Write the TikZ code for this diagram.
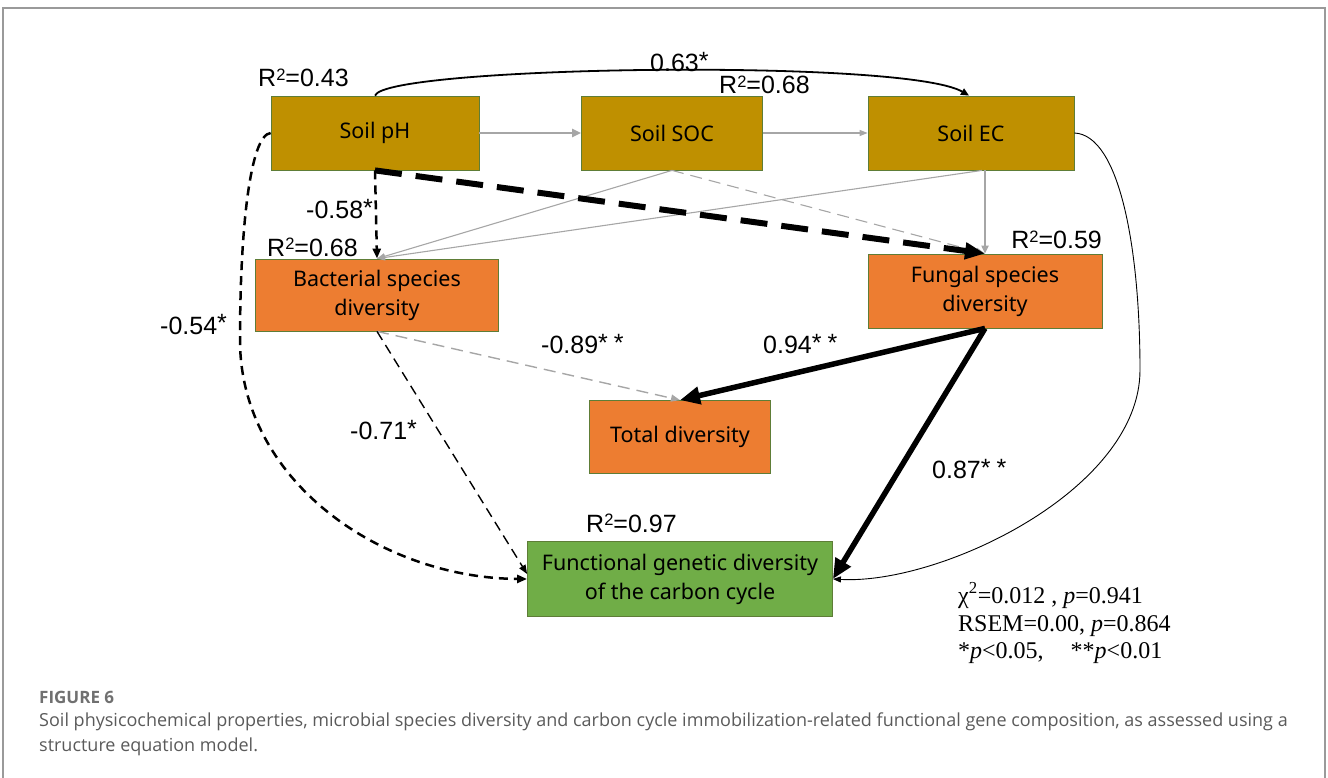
\documentclass[tikz,border=0pt]{standalone}
\usepackage{fontspec}
\setmainfont{Noto Sans}
\newfontfamily\labfont{Liberation Sans}
\newfontfamily\statfont{Liberation Serif}
\newfontfamily\capfont{Open Sans}
\usetikzlibrary{arrows.meta}
\definecolor{gold}{HTML}{BF9000}
\definecolor{orng}{HTML}{ED7D31}
\definecolor{grn}{HTML}{70AD47}
\definecolor{bord}{HTML}{5E7D37}
\definecolor{garr}{HTML}{A6A6A6}
\definecolor{capgray}{HTML}{5A5A5A}
\definecolor{figgray}{HTML}{707070}
\definecolor{framegray}{HTML}{9A9A9A}
\newcommand\sqr{\raisebox{6.5pt}{\fontsize{16.5}{16.5}\selectfont 2}}
\newcommand\onest{\raisebox{2pt}{*}}
\newcommand\twost{\raisebox{2pt}{*\hspace{6pt}*}}
\begin{document}
\begin{tikzpicture}[x=1pt,y=-1pt,
  box/.style={draw=bord,line width=0.8pt,inner sep=0pt,align=center,
    font=\fontsize{21.5}{29}\selectfont},
  goldbox/.style={box,fill=gold},
  orbox/.style={box,fill=orng},
  grbox/.style={box,fill=grn},
  lab/.style={font=\labfont\fontsize{25}{30}\selectfont,inner sep=0pt},
  stat/.style={font=\statfont\fontsize{24}{27}\selectfont,inner sep=0pt,anchor=base west},
  graythin/.style={draw=garr,line width=1.1pt,-{Triangle[length=8pt,width=6pt]}},
  graydash/.style={draw=garr,line width=1.4pt,dash pattern=on 12pt off 7pt,-{Triangle[length=9pt,width=7pt]}},
  blackdash/.style={draw=black,line width=2.5pt,dash pattern=on 9pt off 6pt,-{Triangle[length=10pt,width=8pt]}},
  thindash/.style={draw=black,line width=1.4pt,dash pattern=on 10pt off 6pt,-{Triangle[length=9pt,width=7pt]}},
  heavydash/.style={draw=black,line width=6pt,dash pattern=on 27pt off 14pt,-{Triangle[length=20pt,width=16pt]}},
  heavy/.style={draw=black,line width=5.5pt,-{Triangle[length=20pt,width=17pt]}},
]
\useasboundingbox (0,0) rectangle (1328,778);
\draw[framegray,line width=1.5pt] (3,780) -- (3,8) -- (1325,8) -- (1325,780);

% boxes
\node[goldbox,minimum width=208,minimum height=74] (pH) at (375,133) {Soil pH};
\node[goldbox,minimum width=181,minimum height=74] (SOC) at (672,133) {Soil SOC};
\node[goldbox,minimum width=206,minimum height=74] (EC) at (971,133) {Soil EC};
\node[orbox,minimum width=243,minimum height=72] (Bac) at (377,295) {Bacterial species\\diversity};
\node[orbox,minimum width=234,minimum height=74] (Fun) at (985,291) {Fungal species\\diversity};
\node[orbox,minimum width=181,minimum height=73] (Tot) at (680,437) {Total diversity};
\node[grbox,minimum width=305,minimum height=75] (Fn) at (680,579) {Functional genetic diversity\\of the carbon cycle};

% connectors
\draw[draw=black,line width=1.8pt,-{Triangle[length=8pt,width=7pt]}]
  (pH.north) .. controls (385,66) and (905,58) .. ([xshift=-2pt]EC.north);
\draw[draw=garr,line width=2.2pt,-{Triangle[length=9pt,width=8pt]}] (pH.east) -- (SOC.west);
\draw[graythin] (SOC.east) -- (EC.west);
\draw[graythin] (SOC.south) -- (Bac.north);
\draw[graythin] ([xshift=11pt]EC.south) -- (Bac.north);
\draw[graydash,line width=1.1pt] (SOC.south) -- (Fun.north);
\draw[draw=garr,line width=2pt,-{Triangle[length=8pt,width=7pt]}] (EC.south -| Fun.north) -- (Fun.north);
\draw[blackdash] (pH.south) -- (Bac.north);
\draw[heavydash] (pH.south) -- (Fun.north);
\draw[graydash] (Bac.south) -- (Tot.north);
\draw[heavy] (Fun.south) -- (Tot.north);
\draw[heavy] (Fun.south) -- (Fn.east);
\draw[thindash] (Bac.south) -- ([yshift=5pt]Fn.west);
\draw[blackdash] (pH.west) .. controls (250,135) and (240,230) .. (240,340)
  .. controls (240,480) and (380,578) .. (Fn.west);
\draw[draw=black,line width=0.9pt,-{Triangle[length=8pt,width=6pt]}]
  (EC.east) .. controls (1120,135) and (1140,250) .. (1140,370)
  .. controls (1140,490) and (940,585) .. (Fn.east);

% labels
\node[lab,anchor=base west] (r1) at (258,87) {R\sqr=0.43};
\node[lab,anchor=base west] (c1) at (650,72) {0.63\onest};
\node[lab,anchor=base west] (r2) at (719,94) {R\sqr=0.68};
\node[lab,anchor=base west] (c2) at (306,219) {-0.58\onest};
\node[lab,anchor=base west] (r3) at (267,256) {R\sqr=0.68};
\node[lab,anchor=base east] (r4) at (1102,249) {R\sqr=0.59};
\node[lab,anchor=base west] (c3) at (160,334) {-0.54\onest};
\node[lab,anchor=base west] (c4) at (541,353) {-0.89\twost};
\node[lab,anchor=base west] (c5) at (763,353) {0.94\twost};
\node[lab,anchor=base west] (c6) at (350,439) {-0.71\onest};
\node[lab,anchor=base west] (c7) at (932,478) {0.87\twost};
\node[lab,anchor=base west] (r5) at (586,532) {R\sqr=0.97};

% statistics
\node[stat] (s1) at (958,603) {χ\textsuperscript{2}=0.012 , \textit{p}=0.941};
\node[stat] (s2) at (958,631) {RSEM=0.00, \textit{p}=0.864};
\node[stat] (s3) at (958,658) {*\textit{p}<0.05,\hspace{27pt}**\textit{p}<0.01};

% caption
\node[anchor=base west,inner sep=0pt,text=figgray,font=\capfont\bfseries\fontsize{17}{20}\selectfont] (fig) at (39,703) {FIGURE 6};
\node[anchor=base west,inner sep=0pt,text=capgray,font=\capfont\fontsize{18}{27}\selectfont] (cap1) at (39,726)
  {Soil physicochemical properties, microbial species diversity and carbon cycle immobilization-related functional gene composition, as assessed using a};
\node[anchor=base west,inner sep=0pt,text=capgray,font=\capfont\fontsize{18}{27}\selectfont] (cap2) at (39,751)
  {structure equation model.};
\end{tikzpicture}
\end{document}
